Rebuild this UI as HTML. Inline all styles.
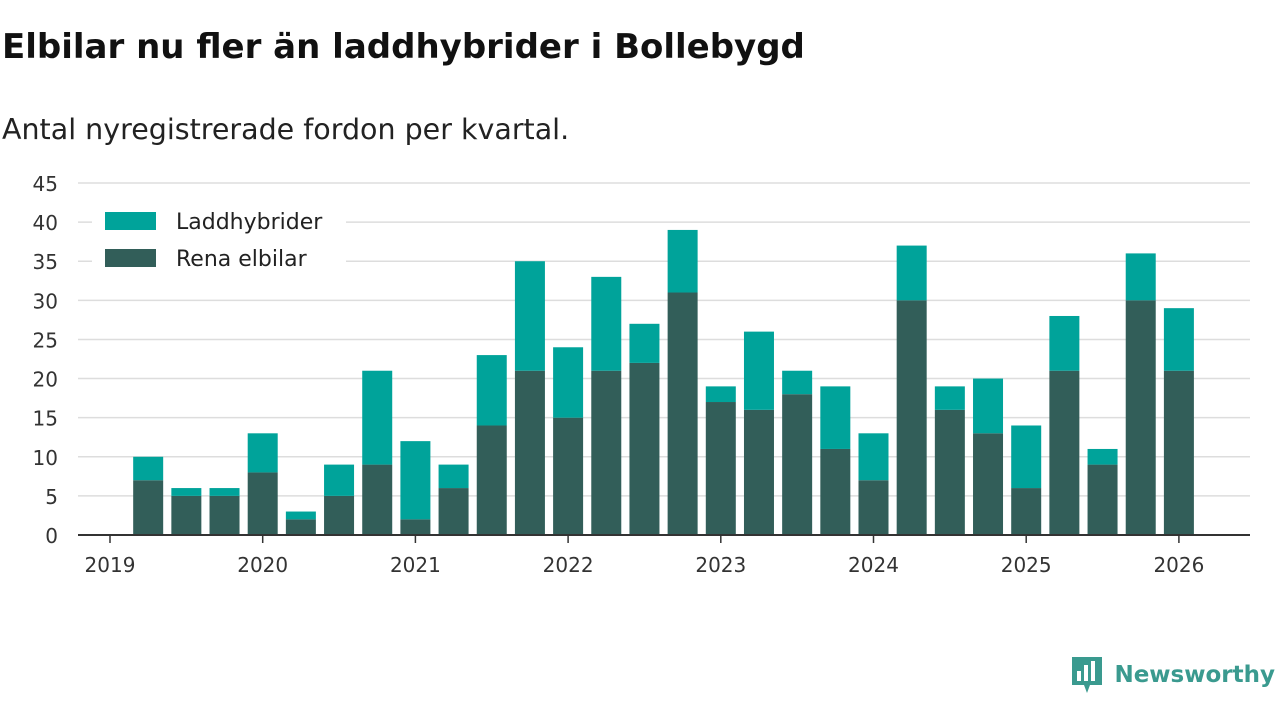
<!DOCTYPE html>
<html><head><meta charset="utf-8"><style>
body{margin:0;width:1280px;height:720px;background:#fff;font-family:"DejaVu Sans","Liberation Sans",sans-serif;overflow:hidden;position:relative}
#title{position:absolute;left:2px;top:27px;font-size:34px;font-weight:bold;color:#111}
#sub{position:absolute;left:2px;top:113px;font-size:28.5px;color:#222}
#logo{position:absolute;right:5px;top:655px;display:flex;align-items:center;color:#3a9a8f;font-size:23px;font-weight:bold}
svg text{font-family:"DejaVu Sans","Liberation Sans",sans-serif}
</style></head><body>
<div id="title">Elbilar nu fler än laddhybrider i Bollebygd</div>
<div id="sub">Antal nyregistrerade fordon per kvartal.</div>
<svg id="chart" width="1280" height="720" style="position:absolute;left:0;top:0"></svg>
<div id="logo">
<svg width="34" height="40" viewBox="0 0 34 40"><path d="M2 2h30v28H20l-3 8-3-8H2z" fill="#3a9a8f"/><rect x="7" y="16" width="4" height="10" fill="#fff"/><rect x="14" y="10" width="4" height="16" fill="#fff"/><rect x="21" y="6" width="4" height="20" fill="#fff"/></svg>
<span style="margin-left:10px">Newsworthy</span></div>
<script>
const quarters=[2019.25,2019.5,2019.75,2020,2020.25,2020.5,2020.75,2021,2021.25,2021.5,2021.75,2022,2022.25,2022.5,2022.75,2023,2023.25,2023.5,2023.75,2024,2024.25,2024.5,2024.75,2025,2025.25,2025.5,2025.75,2026];
const elbilar=[7,5,5,8,2,5,9,2,6,14,21,15,21,22,31,17,16,18,11,7,30,16,13,6,21,9,30,21];
const laddhybrider=[3,1,1,5,1,4,12,10,3,9,14,9,12,5,8,2,10,3,8,6,7,3,7,8,7,2,6,8];
const yTicks=[0,5,10,15,20,25,30,35,40,45];
const xTicks=[2019,2020,2021,2022,2023,2024,2025,2026];
const NS="http://www.w3.org/2000/svg",svg=document.getElementById('chart');
const y=v=>535-v*352/45, x=t=>110+(t-2019)*152.7;
function mk(tag,a,txt){const e=document.createElementNS(NS,tag);for(const k in a)e.setAttribute(k,a[k]);if(txt!=null)e.textContent=txt;svg.appendChild(e);return e;}
yTicks.forEach(v=>{
 if(v>0){const g=mk('line',{x1:78,x2:1250,y1:y(v),y2:y(v),stroke:'#ddd','stroke-width':1.5});
 
 }
 const t=mk('text',{x:58,y:y(v)+8,'text-anchor':'end','font-size':20,fill:'#333'},v);
 
 
});
quarters.forEach((q,i)=>{
 const cx=x(q);
 const b1=mk('rect',{x:cx-15,y:y(elbilar[i]),width:30,height:y(0)-y(elbilar[i]),fill:'#325e59'});
 
 
 const tot=elbilar[i]+laddhybrider[i];
 const b2=mk('rect',{x:cx-15,y:y(tot),width:30,height:y(elbilar[i])-y(tot),fill:'#00a39a'});
 
 
});
const ax=mk('line',{x1:78,x2:1250,y1:535,y2:535,stroke:'#333','stroke-width':2});


xTicks.forEach(t=>{
 mk('line',{x1:x(t),x2:x(t),y1:535,y2:543,stroke:'#333','stroke-width':1.5});
 const l=mk('text',{x:x(t),y:572,'text-anchor':'middle','font-size':20,fill:'#333'},t);
 
 
});
const lb=mk('rect',{x:92,y:198,width:254,height:80,fill:'#fff'});


[['Laddhybrider','#00a39a',212],['Rena elbilar','#325e59',249]].forEach(([n,c,yy])=>{
 const s=mk('rect',{x:105,y:yy,width:51,height:18,fill:c});
 
 
 const t=mk('text',{x:176,y:yy+17,'font-size':22,fill:'#222'},n);
 
 
});
</script>
</body></html>
